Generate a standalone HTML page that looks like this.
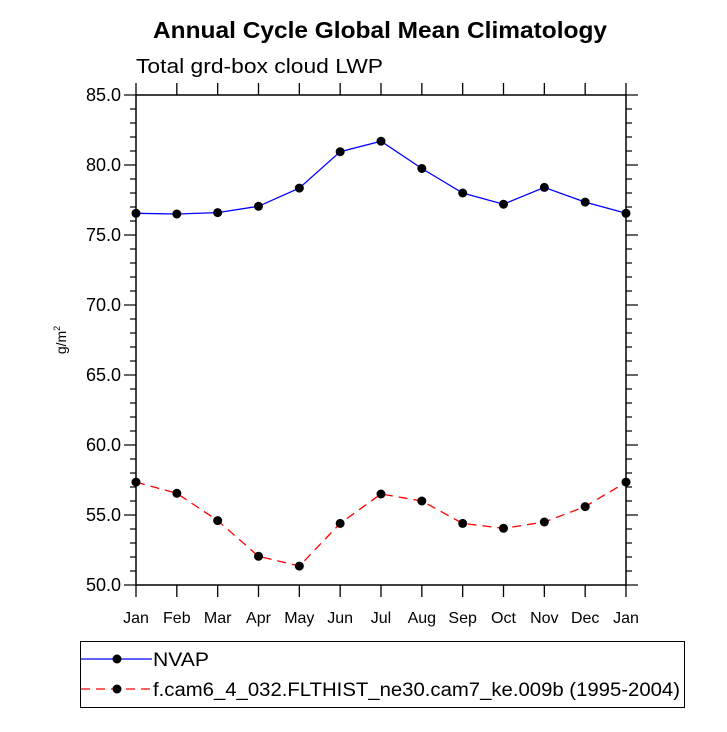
<!DOCTYPE html>
<html><head><meta charset="utf-8"><style>
body{margin:0;background:#fff}
svg text{font-family:"Liberation Sans",sans-serif}
</style></head><body>
<svg id="chart" width="727" height="727" xmlns="http://www.w3.org/2000/svg">
<text x="153" y="38" textLength="454" lengthAdjust="spacingAndGlyphs" font-size="23" font-weight="bold">Annual Cycle Global Mean Climatology</text>
<text x="136" y="73" textLength="247" lengthAdjust="spacingAndGlyphs" font-size="20">Total grd-box cloud LWP</text>
<text transform="translate(66,340) rotate(-90)" text-anchor="middle" font-size="14">g/m<tspan font-size="9" dy="-6">2</tspan></text>
<g id="axes"></g>
<g id="series"></g>
<rect x="80.5" y="641.5" width="604" height="66" fill="none" stroke="#000" stroke-width="1"/>
<line x1="81" y1="659" x2="152" y2="659" stroke="#00f" stroke-width="1.3"/>
<circle cx="117" cy="659" r="4.5" fill="#000"/>
<text x="153" y="666" textLength="56" lengthAdjust="spacingAndGlyphs" font-size="19">NVAP</text>
<line x1="81" y1="689" x2="152" y2="689" stroke="#f00" stroke-width="1.3" stroke-dasharray="9,6"/>
<circle cx="117" cy="689" r="4.5" fill="#000"/>
<text x="153" y="696" textLength="527" lengthAdjust="spacingAndGlyphs" font-size="19">f.cam6_4_032.FLTHIST_ne30.cam7_ke.009b (1995-2004)</text>
</svg>
<script>
const months=["Jan","Feb","Mar","Apr","May","Jun","Jul","Aug","Sep","Oct","Nov","Dec","Jan"];
const nvap=[76.55,76.5,76.6,77.05,78.35,80.95,81.7,79.75,78.0,77.2,78.4,77.35,76.55];
const model=[57.35,56.55,54.6,52.05,51.35,54.4,56.5,56.0,54.4,54.05,54.5,55.6,57.35];
const yTicks=[50,55,60,65,70,75,80,85];
const yTickLabels=["50.0","55.0","60.0","65.0","70.0","75.0","80.0","85.0"];
const L=136,R=626,T=95,B=585,ymin=50,ymax=85;
const xs=i=>L+(R-L)*i/(months.length-1);
const ys=v=>B-(v-ymin)/(ymax-ymin)*(B-T);
const NS="http://www.w3.org/2000/svg";
function mk(p,tag,a){const e=document.createElementNS(NS,tag);for(const k in a)e.setAttribute(k,a[k]);p.appendChild(e);return e;}
const ax=document.getElementById('axes');
const fr=mk(ax,'rect',{x:L,y:T,width:R-L,height:B-T,fill:'none',stroke:'#000','stroke-width':1.5});


months.forEach((m,i)=>{
 const x=xs(i);
 mk(ax,'line',{x1:x,y1:B,x2:x,y2:B+12,stroke:'#000','stroke-width':1.3});
 mk(ax,'line',{x1:x,y1:T,x2:x,y2:T-12,stroke:'#000','stroke-width':1.3});
 const t=mk(ax,'text',{x:x,y:B+38,'text-anchor':'middle','font-size':16});
 t.textContent=m;
 
 
});
for(let v=ymin;v<=ymax;v+=1){
 const y=ys(v),maj=(v%5===0),len=maj?12:6;
 mk(ax,'line',{x1:L,y1:y,x2:L-len,y2:y,stroke:'#000','stroke-width':1.2});
 mk(ax,'line',{x1:R,y1:y,x2:R+len,y2:y,stroke:'#000','stroke-width':1.2});
}
yTicks.forEach((v,i)=>{
 const t=mk(ax,'text',{x:L-15,y:ys(v)+6,'text-anchor':'end','font-size':18});
 t.textContent=yTickLabels[i];
 
 
});
const sg=document.getElementById('series');
function series(data,color,dash,name){
 const p=mk(sg,'polyline',{points:data.map((v,i)=>xs(i)+','+ys(v)).join(' '),fill:'none',stroke:color,'stroke-width':1.3});
 if(dash)p.setAttribute('stroke-dasharray',dash);
 
 
 data.forEach((v,i)=>{
  const c=mk(sg,'circle',{cx:xs(i),cy:ys(v),r:4.5,fill:'#000'});
  
  
 });
}
series(nvap,'#00f',null,'nvap');
series(model,'#f00','9,6','model');
</script>
</body></html>
